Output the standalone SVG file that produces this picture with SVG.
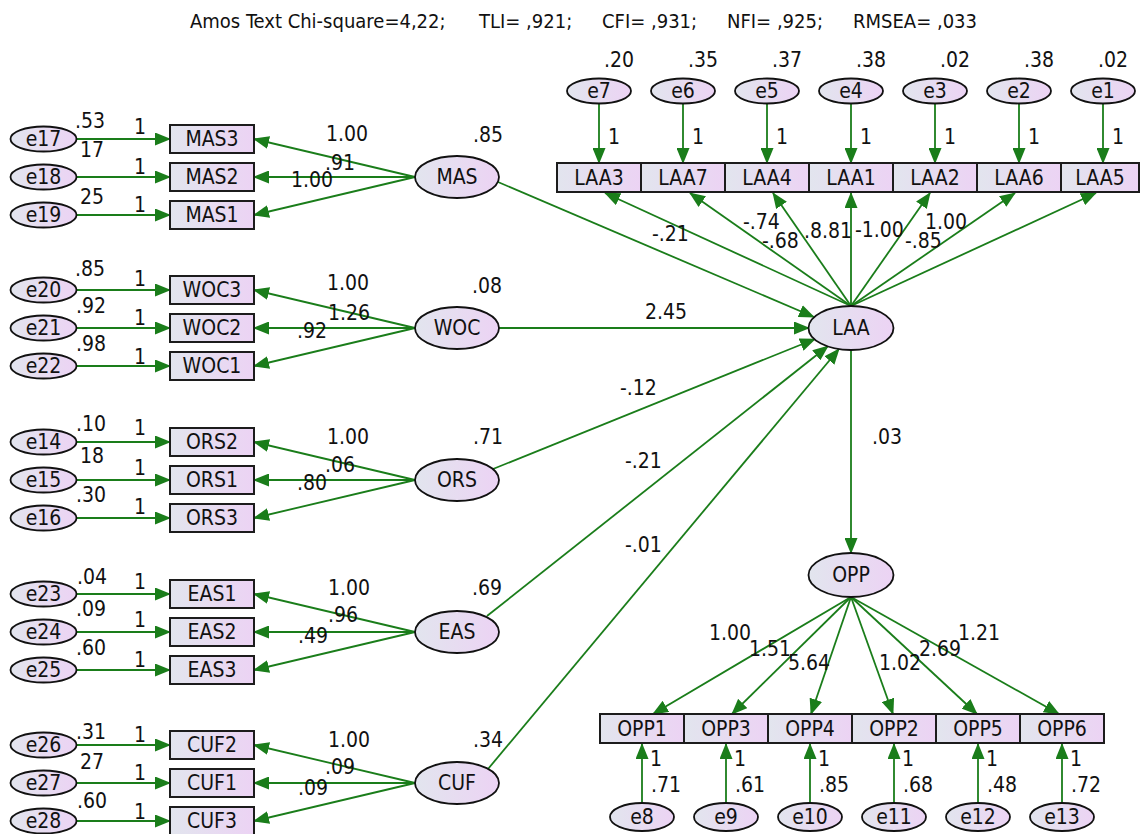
<svg xmlns="http://www.w3.org/2000/svg" width="1140" height="834" viewBox="0 0 1140 834">
<defs>
<linearGradient id="g" x1="0" y1="0" x2="1" y2="0">
<stop offset="0" stop-color="#e2e5ee"/>
<stop offset="1" stop-color="#ecd3f4"/>
</linearGradient>
<marker id="ah" viewBox="0 0 16 13" refX="15" refY="6.5" markerWidth="16" markerHeight="13" markerUnits="userSpaceOnUse" orient="auto">
<path d="M0,0 L16,6.5 L0,13 z" fill="#1a7d1a"/>
</marker>
<style>
text{font-family:"DejaVu Sans Condensed","DejaVu Sans","Liberation Sans",sans-serif;font-stretch:condensed;font-size:21px;fill:#111}
#title text{font-size:20px}
.m{text-anchor:middle}
.ln{stroke:#1a7d1a;stroke-width:1.8;fill:none;marker-end:url(#ah)}
.bx{fill:url(#g);stroke:#1c1c1c;stroke-width:2}
.el{fill:url(#g);stroke:#111;stroke-width:1.8}
</style>
</defs>
<rect width="1140" height="834" fill="#ffffff"/>
<g id="title">
<text x="190" y="28">Amos Text Chi-square=4,22;</text>
<text x="479" y="28">TLI= ,921;</text>
<text x="602" y="28">CFI= ,931;</text>
<text x="727" y="28">NFI= ,925;</text>
<text x="853" y="28">RMSEA= ,033</text>
</g>
<g id="connectors">
<path class="ln" d="M77,139 H170"/><path class="ln" d="M77,177 H170"/><path class="ln" d="M77,215 H170"/>
<path class="ln" d="M415,177 L254,139"/><path class="ln" d="M415,177 H254"/><path class="ln" d="M415,177 L254,215"/>
<path class="ln" d="M77,290 H170"/><path class="ln" d="M77,328 H170"/><path class="ln" d="M77,366 H170"/>
<path class="ln" d="M415,328 L254,290"/><path class="ln" d="M415,328 H254"/><path class="ln" d="M415,328 L254,366"/>
<path class="ln" d="M77,442 H170"/><path class="ln" d="M77,480 H170"/><path class="ln" d="M77,518 H170"/>
<path class="ln" d="M415,480 L254,442"/><path class="ln" d="M415,480 H254"/><path class="ln" d="M415,480 L254,518"/>
<path class="ln" d="M77,594 H170"/><path class="ln" d="M77,632 H170"/><path class="ln" d="M77,670 H170"/>
<path class="ln" d="M415,632 L254,594"/><path class="ln" d="M415,632 H254"/><path class="ln" d="M415,632 L254,670"/>
<path class="ln" d="M77,745 H170"/><path class="ln" d="M77,783 H170"/><path class="ln" d="M77,821 H170"/>
<path class="ln" d="M415,783 L254,745"/><path class="ln" d="M415,783 H254"/><path class="ln" d="M415,783 L254,821"/>
<path class="ln" d="M498,182 L814,317"/>
<path class="ln" d="M499,328 H809"/>
<path class="ln" d="M493,469 L815,339"/>
<path class="ln" d="M487,616 L828,346"/>
<path class="ln" d="M488,769 L839,349"/>
<path class="ln" d="M851,350 V553"/>
<path class="ln" d="M851,306 L605,193"/>
<path class="ln" d="M851,306 L690,193"/>
<path class="ln" d="M851,306 L773,193"/>
<path class="ln" d="M851,306 L851,193"/>
<path class="ln" d="M851,306 L930,193"/>
<path class="ln" d="M851,306 L1015,193"/>
<path class="ln" d="M851,306 L1096,193"/>
<path class="ln" d="M599,104 V163"/><path class="ln" d="M683,104 V163"/><path class="ln" d="M767,104 V163"/><path class="ln" d="M851,104 V163"/><path class="ln" d="M935,104 V163"/><path class="ln" d="M1019,104 V163"/><path class="ln" d="M1103,104 V163"/>
<path class="ln" d="M851,597 L653,714"/>
<path class="ln" d="M851,597 L732,714"/>
<path class="ln" d="M851,597 L811,714"/>
<path class="ln" d="M851,597 L893,714"/>
<path class="ln" d="M851,597 L977,714"/>
<path class="ln" d="M851,597 L1059,714"/>
<path class="ln" d="M642,802 V744"/><path class="ln" d="M726,802 V744"/><path class="ln" d="M810,802 V744"/><path class="ln" d="M894,802 V744"/><path class="ln" d="M978,802 V744"/><path class="ln" d="M1062,802 V744"/>
</g>
<g id="labels">
<text x="75" y="128">.53</text><text x="80" y="157">17</text><text x="80" y="204">25</text>
<text x="134" y="134">1</text><text x="134" y="174">1</text><text x="134" y="212">1</text>
<text x="326" y="141">1.00</text><text x="325" y="170">.91</text><text x="291" y="187">1.00</text><text x="473" y="142">.85</text>
<text x="75" y="276">.85</text><text x="76" y="313">.92</text><text x="76" y="351">.98</text>
<text x="134" y="286">1</text><text x="134" y="325">1</text><text x="134" y="364">1</text>
<text x="327" y="290">1.00</text><text x="328" y="320">1.26</text><text x="297" y="338">.92</text><text x="472" y="293">.08</text>
<text x="76" y="431">.10</text><text x="80" y="463">18</text><text x="76" y="502">.30</text>
<text x="134" y="435">1</text><text x="134" y="475">1</text><text x="134" y="514">1</text>
<text x="327" y="444">1.00</text><text x="325" y="472">.06</text><text x="297" y="490">.80</text><text x="473" y="444">.71</text>
<text x="77" y="584">.04</text><text x="76" y="616">.09</text><text x="76" y="655">.60</text>
<text x="134" y="589">1</text><text x="134" y="627">1</text><text x="134" y="667">1</text>
<text x="328" y="595">1.00</text><text x="328" y="622">.96</text><text x="298" y="643">.49</text><text x="472" y="595">.69</text>
<text x="76" y="739">.31</text><text x="80" y="769">27</text><text x="77" y="808">.60</text>
<text x="134" y="742">1</text><text x="134" y="780">1</text><text x="134" y="819">1</text>
<text x="328" y="747">1.00</text><text x="325" y="774">.09</text><text x="298" y="795">.09</text><text x="473" y="747">.34</text>
<text x="652" y="241">-.21</text>
<text x="645" y="319">2.45</text>
<text x="620" y="395">-.12</text>
<text x="625" y="468">-.21</text>
<text x="625" y="552">-.01</text>
<text x="872" y="444">.03</text>
<text x="743" y="229">-.74</text>
<text x="762" y="248">-.68</text>
<text x="804" y="238">.8.81</text>
<text x="855" y="237">-1.00</text>
<text x="925" y="229">1.00</text>
<text x="905" y="248">-.85</text>
<text x="604" y="67">.20</text><text x="688" y="67">.35</text><text x="772" y="67">.37</text><text x="856" y="67">.38</text><text x="940" y="67">.02</text><text x="1024" y="67">.38</text><text x="1098" y="67">.02</text>
<text x="608" y="144">1</text><text x="692" y="144">1</text><text x="776" y="144">1</text><text x="860" y="144">1</text><text x="944" y="144">1</text><text x="1028" y="144">1</text><text x="1112" y="144">1</text>
<text x="709" y="640">1.00</text><text x="749" y="656">1.51</text><text x="788" y="670">5.64</text>
<text x="879" y="670">1.02</text><text x="919" y="656">2.69</text><text x="958" y="640">1.21</text>
<text x="650" y="766">1</text><text x="734" y="766">1</text><text x="818" y="766">1</text><text x="902" y="766">1</text><text x="986" y="766">1</text><text x="1070" y="766">1</text>
<text x="651" y="792">.71</text><text x="735" y="792">.61</text><text x="819" y="792">.85</text><text x="903" y="792">.68</text><text x="987" y="792">.48</text><text x="1071" y="792">.72</text>
</g>
<g id="e17"><ellipse class="el" cx="43.5" cy="139" rx="33" ry="12.5"/><text class="m" x="43.5" y="146">e17</text></g>
<g id="e18"><ellipse class="el" cx="43.5" cy="177" rx="33" ry="12.5"/><text class="m" x="43.5" y="184">e18</text></g>
<g id="e19"><ellipse class="el" cx="43.5" cy="215" rx="33" ry="12.5"/><text class="m" x="43.5" y="222">e19</text></g>
<g id="e20"><ellipse class="el" cx="43.5" cy="290" rx="33" ry="12.5"/><text class="m" x="43.5" y="297">e20</text></g>
<g id="e21"><ellipse class="el" cx="43.5" cy="328" rx="33" ry="12.5"/><text class="m" x="43.5" y="335">e21</text></g>
<g id="e22"><ellipse class="el" cx="43.5" cy="366" rx="33" ry="12.5"/><text class="m" x="43.5" y="373">e22</text></g>
<g id="e14"><ellipse class="el" cx="43.5" cy="442" rx="33" ry="12.5"/><text class="m" x="43.5" y="449">e14</text></g>
<g id="e15"><ellipse class="el" cx="43.5" cy="480" rx="33" ry="12.5"/><text class="m" x="43.5" y="487">e15</text></g>
<g id="e16"><ellipse class="el" cx="43.5" cy="518" rx="33" ry="12.5"/><text class="m" x="43.5" y="525">e16</text></g>
<g id="e23"><ellipse class="el" cx="43.5" cy="594" rx="33" ry="12.5"/><text class="m" x="43.5" y="601">e23</text></g>
<g id="e24"><ellipse class="el" cx="43.5" cy="632" rx="33" ry="12.5"/><text class="m" x="43.5" y="639">e24</text></g>
<g id="e25"><ellipse class="el" cx="43.5" cy="670" rx="33" ry="12.5"/><text class="m" x="43.5" y="677">e25</text></g>
<g id="e26"><ellipse class="el" cx="43.5" cy="745" rx="33" ry="12.5"/><text class="m" x="43.5" y="752">e26</text></g>
<g id="e27"><ellipse class="el" cx="43.5" cy="783" rx="33" ry="12.5"/><text class="m" x="43.5" y="790">e27</text></g>
<g id="e28"><ellipse class="el" cx="43.5" cy="821" rx="33" ry="12.5"/><text class="m" x="43.5" y="828">e28</text></g>
<g id="MAS3"><rect class="bx" x="170" y="125" width="84" height="28"/><text class="m" x="212" y="146">MAS3</text></g>
<g id="MAS2"><rect class="bx" x="170" y="163" width="84" height="28"/><text class="m" x="212" y="184">MAS2</text></g>
<g id="MAS1"><rect class="bx" x="170" y="201" width="84" height="28"/><text class="m" x="212" y="222">MAS1</text></g>
<g id="WOC3"><rect class="bx" x="170" y="276" width="84" height="28"/><text class="m" x="212" y="297">WOC3</text></g>
<g id="WOC2"><rect class="bx" x="170" y="314" width="84" height="28"/><text class="m" x="212" y="335">WOC2</text></g>
<g id="WOC1"><rect class="bx" x="170" y="352" width="84" height="28"/><text class="m" x="212" y="373">WOC1</text></g>
<g id="ORS2"><rect class="bx" x="170" y="428" width="84" height="28"/><text class="m" x="212" y="449">ORS2</text></g>
<g id="ORS1"><rect class="bx" x="170" y="466" width="84" height="28"/><text class="m" x="212" y="487">ORS1</text></g>
<g id="ORS3"><rect class="bx" x="170" y="504" width="84" height="28"/><text class="m" x="212" y="525">ORS3</text></g>
<g id="EAS1"><rect class="bx" x="170" y="580" width="84" height="28"/><text class="m" x="212" y="601">EAS1</text></g>
<g id="EAS2"><rect class="bx" x="170" y="618" width="84" height="28"/><text class="m" x="212" y="639">EAS2</text></g>
<g id="EAS3"><rect class="bx" x="170" y="656" width="84" height="28"/><text class="m" x="212" y="677">EAS3</text></g>
<g id="CUF2"><rect class="bx" x="170" y="731" width="84" height="28"/><text class="m" x="212" y="752">CUF2</text></g>
<g id="CUF1"><rect class="bx" x="170" y="769" width="84" height="28"/><text class="m" x="212" y="790">CUF1</text></g>
<g id="CUF3"><rect class="bx" x="170" y="807" width="84" height="28"/><text class="m" x="212" y="828">CUF3</text></g>
<g id="MAS"><ellipse class="el" cx="457" cy="177" rx="42" ry="21"/><text class="m" x="457" y="184">MAS</text></g>
<g id="WOC"><ellipse class="el" cx="457" cy="328" rx="42" ry="21"/><text class="m" x="457" y="335">WOC</text></g>
<g id="ORS"><ellipse class="el" cx="457" cy="480" rx="42" ry="21"/><text class="m" x="457" y="487">ORS</text></g>
<g id="EAS"><ellipse class="el" cx="457" cy="632" rx="42" ry="21"/><text class="m" x="457" y="639">EAS</text></g>
<g id="CUF"><ellipse class="el" cx="457" cy="783" rx="42" ry="21"/><text class="m" x="457" y="790">CUF</text></g>
<g id="LAA"><ellipse class="el" cx="851" cy="328" rx="42.5" ry="22"/><text class="m" x="851" y="335">LAA</text></g>
<g id="OPP"><ellipse class="el" cx="851" cy="575" rx="42.5" ry="22"/><text class="m" x="851" y="582">OPP</text></g>
<g id="e7"><ellipse class="el" cx="599" cy="91" rx="32" ry="12.5"/><text class="m" x="599" y="98">e7</text></g>
<g id="e6"><ellipse class="el" cx="683" cy="91" rx="32" ry="12.5"/><text class="m" x="683" y="98">e6</text></g>
<g id="e5"><ellipse class="el" cx="767" cy="91" rx="32" ry="12.5"/><text class="m" x="767" y="98">e5</text></g>
<g id="e4"><ellipse class="el" cx="851" cy="91" rx="32" ry="12.5"/><text class="m" x="851" y="98">e4</text></g>
<g id="e3"><ellipse class="el" cx="935" cy="91" rx="32" ry="12.5"/><text class="m" x="935" y="98">e3</text></g>
<g id="e2"><ellipse class="el" cx="1019" cy="91" rx="32" ry="12.5"/><text class="m" x="1019" y="98">e2</text></g>
<g id="e1"><ellipse class="el" cx="1103" cy="91" rx="32" ry="12.5"/><text class="m" x="1103" y="98">e1</text></g>
<g id="LAA3"><rect class="bx" x="557" y="163" width="84" height="29"/><text class="m" x="599" y="185">LAA3</text></g>
<g id="LAA7"><rect class="bx" x="641" y="163" width="84" height="29"/><text class="m" x="683" y="185">LAA7</text></g>
<g id="LAA4"><rect class="bx" x="725" y="163" width="84" height="29"/><text class="m" x="767" y="185">LAA4</text></g>
<g id="LAA1"><rect class="bx" x="809" y="163" width="84" height="29"/><text class="m" x="851" y="185">LAA1</text></g>
<g id="LAA2"><rect class="bx" x="893" y="163" width="84" height="29"/><text class="m" x="935" y="185">LAA2</text></g>
<g id="LAA6"><rect class="bx" x="977" y="163" width="84" height="29"/><text class="m" x="1019" y="185">LAA6</text></g>
<g id="LAA5"><rect class="bx" x="1061" y="163" width="78" height="29"/><text class="m" x="1100" y="185">LAA5</text></g>
<g id="OPP1"><rect class="bx" x="600" y="714" width="84" height="29"/><text class="m" x="642" y="736">OPP1</text></g>
<g id="OPP3"><rect class="bx" x="684" y="714" width="84" height="29"/><text class="m" x="726" y="736">OPP3</text></g>
<g id="OPP4"><rect class="bx" x="768" y="714" width="84" height="29"/><text class="m" x="810" y="736">OPP4</text></g>
<g id="OPP2"><rect class="bx" x="852" y="714" width="84" height="29"/><text class="m" x="894" y="736">OPP2</text></g>
<g id="OPP5"><rect class="bx" x="936" y="714" width="84" height="29"/><text class="m" x="978" y="736">OPP5</text></g>
<g id="OPP6"><rect class="bx" x="1020" y="714" width="84" height="29"/><text class="m" x="1062" y="736">OPP6</text></g>
<g id="e8"><ellipse class="el" cx="642" cy="817" rx="32" ry="14"/><text class="m" x="642" y="824">e8</text></g>
<g id="e9"><ellipse class="el" cx="726" cy="817" rx="32" ry="14"/><text class="m" x="726" y="824">e9</text></g>
<g id="e10"><ellipse class="el" cx="810" cy="817" rx="32" ry="14"/><text class="m" x="810" y="824">e10</text></g>
<g id="e11"><ellipse class="el" cx="894" cy="817" rx="32" ry="14"/><text class="m" x="894" y="824">e11</text></g>
<g id="e12"><ellipse class="el" cx="978" cy="817" rx="32" ry="14"/><text class="m" x="978" y="824">e12</text></g>
<g id="e13"><ellipse class="el" cx="1062" cy="817" rx="32" ry="14"/><text class="m" x="1062" y="824">e13</text></g>
</svg>
